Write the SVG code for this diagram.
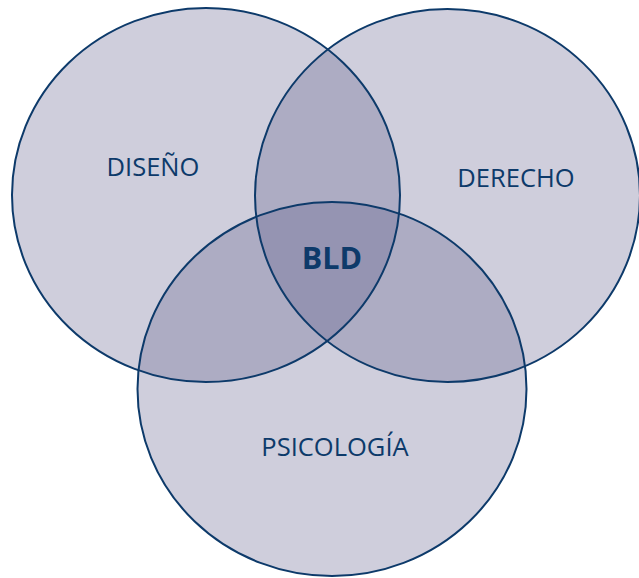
<svg xmlns="http://www.w3.org/2000/svg" width="639" height="578" viewBox="0 0 639 578">
<style>
.c{fill:rgb(97,94,138);fill-opacity:0.3;stroke:none}
.o{fill:none;stroke:#0d3a6a;stroke-width:2}
.t{font-family:"Open Sans","Noto Sans",sans-serif;font-size:25.5px;fill:#0d3a6a;text-anchor:middle}
.b{font-weight:bold;font-size:30.5px}
</style>
<rect width="639" height="578" fill="#ffffff"/>
<g id="diseno">
<ellipse class="c" cx="206" cy="195" rx="194" ry="187"/>
</g>
<g id="derecho">
<ellipse class="c" cx="447.5" cy="195.5" rx="192.5" ry="186.5"/>
</g>
<g id="psicologia">
<ellipse class="c" cx="332" cy="389" rx="194.5" ry="187"/>
</g>
<g id="outlines">
<ellipse class="o" cx="206" cy="195" rx="194" ry="187"/>
<ellipse class="o" cx="447.5" cy="195.5" rx="192.5" ry="186.5"/>
<ellipse class="o" cx="332" cy="389" rx="194.5" ry="187"/>
</g>
<g id="labels">
<text class="t" x="153" y="176">DISEÑO</text>
<text class="t" x="516" y="187">DERECHO</text>
<text class="t" x="335" y="456">PSICOLOGÍA</text>
<text class="t b" x="332" y="269">BLD</text>
</g>
</svg>
